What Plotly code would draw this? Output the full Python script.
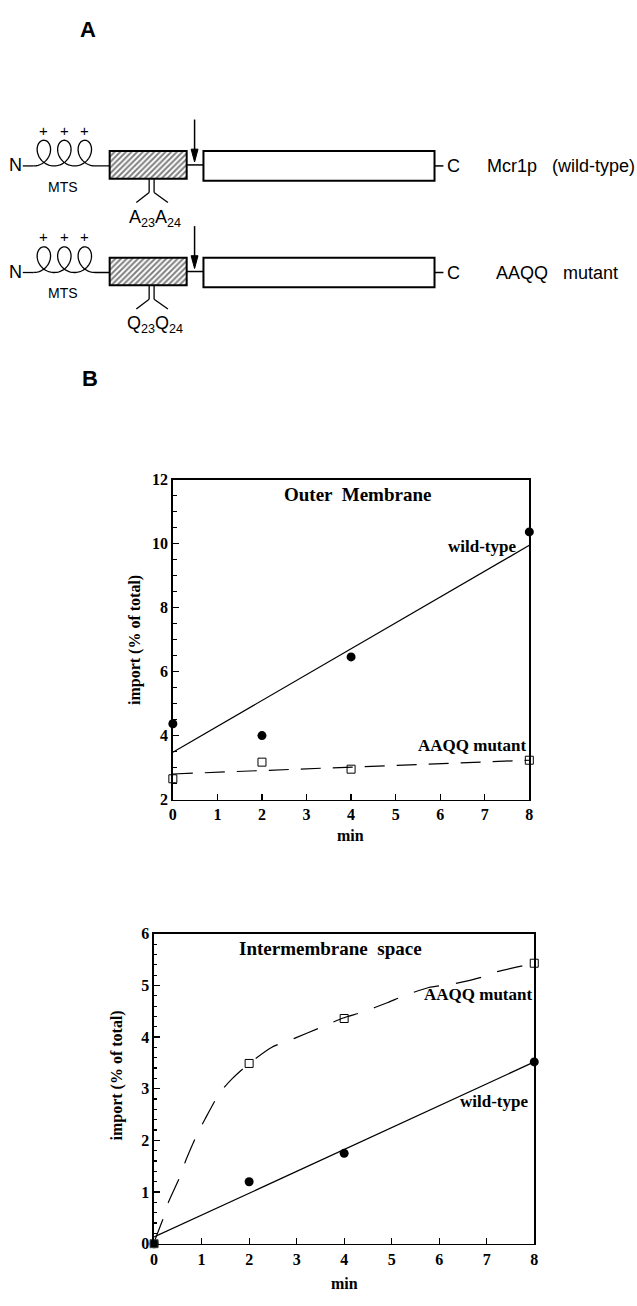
import numpy as np
import plotly.graph_objects as go

W, H = 637, 1306

# ---------------- Panel B data ----------------
time_min = [0, 2, 4, 8]
om_wildtype = [4.37, 4.0, 6.46, 10.37]
om_aaqq = [2.65, 3.17, 2.95, 3.23]
om_fit_x = [0, 8]
om_fit_wildtype = [3.48, 9.95]
om_fit_aaqq = [2.8, 3.23]

ims_wildtype = [0.0, 1.2, 1.75, 3.52]
ims_aaqq = [0.0, 3.49, 4.36, 5.43]
ims_fit_x = [0, 8]
ims_fit_wildtype = [0.13, 3.52]
ims_curve_x = [0, 0.03, 0.2, 0.3, 0.55, 0.67, 0.91, 1.07, 1.38, 1.65, 2.0, 2.47,
               2.99, 3.46, 3.98, 4.37, 4.92, 5.26, 5.78, 6.3, 6.86, 7.1, 7.65, 8.0]
ims_curve_aaqq = [0, 0.1, 0.51, 0.8, 1.31, 1.62, 2.13, 2.41, 2.92, 3.2, 3.49, 3.8,
                  3.99, 4.17, 4.37, 4.48, 4.67, 4.8, 4.96, 5.03, 5.15, 5.24, 5.36, 5.43]

x_ticks = [0, 1, 2, 3, 4, 5, 6, 7, 8]
om_y_ticks = [2, 4, 6, 8, 10, 12]
ims_y_ticks = [0, 1, 2, 3, 4, 5, 6]

# ---------------- Panel A labels ----------------
construct_labels = ["Mcr1p   (wild-type)", "AAQQ   mutant"]
mutation_labels = ["A<sub>23</sub>A<sub>24</sub>", "Q<sub>23</sub>Q<sub>24</sub>"]

SERIF = "Liberation Serif"
SANS = "Liberation Sans"

def px_dom_x(a, b):
    return [a / W, b / W]

def px_dom_y(top, bottom):
    return [1 - bottom / H, 1 - top / H]

fig = go.Figure()

# ---- Outer membrane plot (x, y) ----
fig.add_trace(go.Scatter(x=om_fit_x, y=om_fit_wildtype, mode="lines",
                         line=dict(color="black", width=1.2), xaxis="x", yaxis="y",
                         showlegend=False))
fig.add_trace(go.Scatter(x=om_fit_x, y=om_fit_aaqq, mode="lines",
                         line=dict(color="black", width=1.2, dash="20px,12px"),
                         xaxis="x", yaxis="y", showlegend=False))
fig.add_trace(go.Scatter(x=time_min, y=om_wildtype, mode="markers",
                         marker=dict(symbol="circle", size=9, color="black"),
                         cliponaxis=False, xaxis="x", yaxis="y", showlegend=False))
fig.add_trace(go.Scatter(x=time_min, y=om_aaqq, mode="markers",
                         marker=dict(symbol="square-open", size=8, color="black",
                                     line=dict(width=1)),
                         cliponaxis=False, xaxis="x", yaxis="y", showlegend=False))

# ---- Intermembrane space plot (x2, y2) ----
fig.add_trace(go.Scatter(x=ims_fit_x, y=ims_fit_wildtype, mode="lines",
                         line=dict(color="black", width=1.2), xaxis="x2", yaxis="y2",
                         showlegend=False))
fig.add_trace(go.Scatter(x=ims_curve_x, y=ims_curve_aaqq, mode="lines",
                         line=dict(color="black", width=1.2, dash="26px,17px", shape="spline",
                                   smoothing=0.6),
                         xaxis="x2", yaxis="y2", showlegend=False))
fig.add_trace(go.Scatter(x=time_min, y=ims_wildtype, mode="markers",
                         marker=dict(symbol="circle", size=9, color="black"),
                         cliponaxis=False, xaxis="x2", yaxis="y2", showlegend=False))
fig.add_trace(go.Scatter(x=time_min, y=ims_aaqq, mode="markers",
                         marker=dict(symbol=["square"] + ["square-open"] * 3, size=8,
                                     color="black", line=dict(width=1)),
                         cliponaxis=False, xaxis="x2", yaxis="y2", showlegend=False))

# ---- Panel A diagram on pixel overlay axes (x3, y3) ----
ROW_Y = [159, 267]
BOX_L, BOX_R = 107, 185
BIG_L, BIG_R = 202, 436

shapes = []
annotations = []

def pline(x0, y0, x1, y1, w=1.3):
    shapes.append(dict(type="line", xref="x3", yref="y3", x0=x0, y0=y0, x1=x1, y1=y1,
                       line=dict(color="black", width=w)))

def text(x, y, s, size=14, family=SANS, weight="normal", xanchor="center", angle=0):
    annotations.append(dict(xref="x3", yref="y3", x=x, y=y, text=s, showarrow=False,
                            xanchor=xanchor, yanchor="middle", textangle=angle,
                            font=dict(family=family, size=size, color="#000000", weight=weight)))

for i, ry in enumerate(ROW_Y):
    # N terminus
    text(12, ry, "N", size=18)
    pline(19, ry + 1, 30, ry + 1)
    # coil (MTS helix) drawn as path
    t = np.linspace(0, 6 * np.pi, 240)
    a, b, hh = 3.3, 11.5, 26.0
    cx = 30 + a * t + b * np.sin(t)
    cy = ry + 1 - hh * (1 - np.cos(t)) / 2
    path = "M " + " L ".join(f"{x:.2f},{y:.2f}" for x, y in zip(cx, cy))
    path += f" L {BOX_L},{ry + 1}"
    shapes.append(dict(type="path", xref="x3", yref="y3", path=path,
                       line=dict(color="black", width=1.3)))
    for k in range(3):
        text(30 + a * np.pi * (2 * k + 1), ry - 35, "+", size=15)
    text(60, ry + 22, "MTS", size=14)
    # connector to mature part
    pline(BOX_R, ry, BIG_L, ry, w=1.5)
    # processing site arrow
    pline(193, ry - 46, 193, ry - 10, w=1.5)
    shapes.append(dict(type="path", xref="x3", yref="y3",
                       path=f"M 189.5,{ry-16} L 196.5,{ry-16} L 193,{ry-3} Z",
                       fillcolor="black", line=dict(color="black", width=1)))
    # mature protein box
    shapes.append(dict(type="rect", xref="x3", yref="y3", x0=BIG_L, x1=BIG_R,
                       y0=ry - 14, y1=ry + 16, line=dict(color="black", width=2)))
    pline(BIG_R, ry + 1, BIG_R + 9, ry + 1, w=1.5)
    text(455, ry + 1, "C", size=18)
    text(487 if i == 0 else 496, ry + 1, construct_labels[i], size=18, xanchor="left")
    # stem with mutation label
    pline(147, ry + 14, 147, ry + 28)
    pline(152, ry + 14, 152, ry + 28)
    pline(147, ry + 28, 134, ry + 38)
    pline(152, ry + 28, 166, ry + 38)
    text(153, ry + 54, mutation_labels[i], size=18)

# hatched boxes as bars with pattern
fig.add_trace(go.Bar(x=[(BOX_L + BOX_R) / 2] * 2, y=[28, 28], base=[r - 14 for r in ROW_Y],
                     width=BOX_R - BOX_L, xaxis="x3", yaxis="y3", showlegend=False,
                     marker=dict(color="white", line=dict(color="black", width=2),
                                 pattern=dict(shape="/", fgcolor="black", bgcolor="white",
                                              size=4, solidity=0.5)),
                     hoverinfo="skip"))

# panel letters
text(85, 22, "A", size=22, weight="bold")
text(87, 375, "B", size=22, weight="bold")

# plot titles and labels
text(358, 493, "Outer  Membrane", size=19, family=SERIF, weight="bold")
text(484, 546, "wild-type", size=17, family=SERIF, weight="bold")
text(474, 747, "AAQQ mutant", size=17, family=SERIF, weight="bold")
text(132, 640, "import (% of total)", size=16, family=SERIF, weight="bold", angle=-90)
text(351, 838, "min", size=16, family=SERIF, weight="bold")

text(331, 953, "Intermembrane  space", size=19, family=SERIF, weight="bold")
text(480, 1000, "AAQQ mutant", size=17, family=SERIF, weight="bold")
text(496, 1108, "wild-type", size=17, family=SERIF, weight="bold")
text(114, 1082, "import (% of total)", size=16, family=SERIF, weight="bold", angle=-90)
text(345, 1292, "min", size=16, family=SERIF, weight="bold")

tickfont = dict(family=SERIF, size=16, color="black", weight="bold")
common_x = dict(range=[0, 8], tickvals=x_ticks, ticks="inside", ticklen=6, tickwidth=1.2,
                tickcolor="black", showline=True, mirror=True, linecolor="black",
                linewidth=1.6, showgrid=False, zeroline=False, tickfont=tickfont,
                fixedrange=True)

fig.update_layout(
    width=W, height=H, margin=dict(l=0, r=0, t=0, b=0),
    paper_bgcolor="white", plot_bgcolor="rgba(0,0,0,0)",
    showlegend=False, shapes=shapes, annotations=annotations,
    xaxis=dict(domain=px_dom_x(171, 532), anchor="y", **common_x),
    yaxis=dict(domain=px_dom_y(478, 802), anchor="x", range=[2, 12], tickvals=om_y_ticks,
               ticks="inside", ticklen=6, tickwidth=1.2, tickcolor="black",
               minor=dict(dtick=0.5, ticks="inside", ticklen=4, tickcolor="black"),
               showline=True, mirror=True, linecolor="black", linewidth=1.6,
               showgrid=False, zeroline=False, tickfont=tickfont),
    xaxis2=dict(domain=px_dom_x(152, 537), anchor="y2", **common_x),
    yaxis2=dict(domain=px_dom_y(938, 1252), anchor="x2", range=[0, 6], tickvals=ims_y_ticks,
                ticks="inside", ticklen=6, tickwidth=1.2, tickcolor="black",
                minor=dict(dtick=0.2, ticks="inside", ticklen=3, tickcolor="black"),
                showline=True, mirror=True, linecolor="black", linewidth=1.6,
                showgrid=False, zeroline=False, tickfont=tickfont),
    xaxis3=dict(domain=[0, 1], anchor="y3", range=[0, W], visible=False, fixedrange=True),
    yaxis3=dict(domain=[0, 1], anchor="x3", range=[H, 0], visible=False, fixedrange=True),
    bargap=0,
)

fig.write_html("out.html", config={"displayModeBar": False, "staticPlot": True},
               post_script="document.body.style.margin='0';document.body.style.overflow='hidden';")
